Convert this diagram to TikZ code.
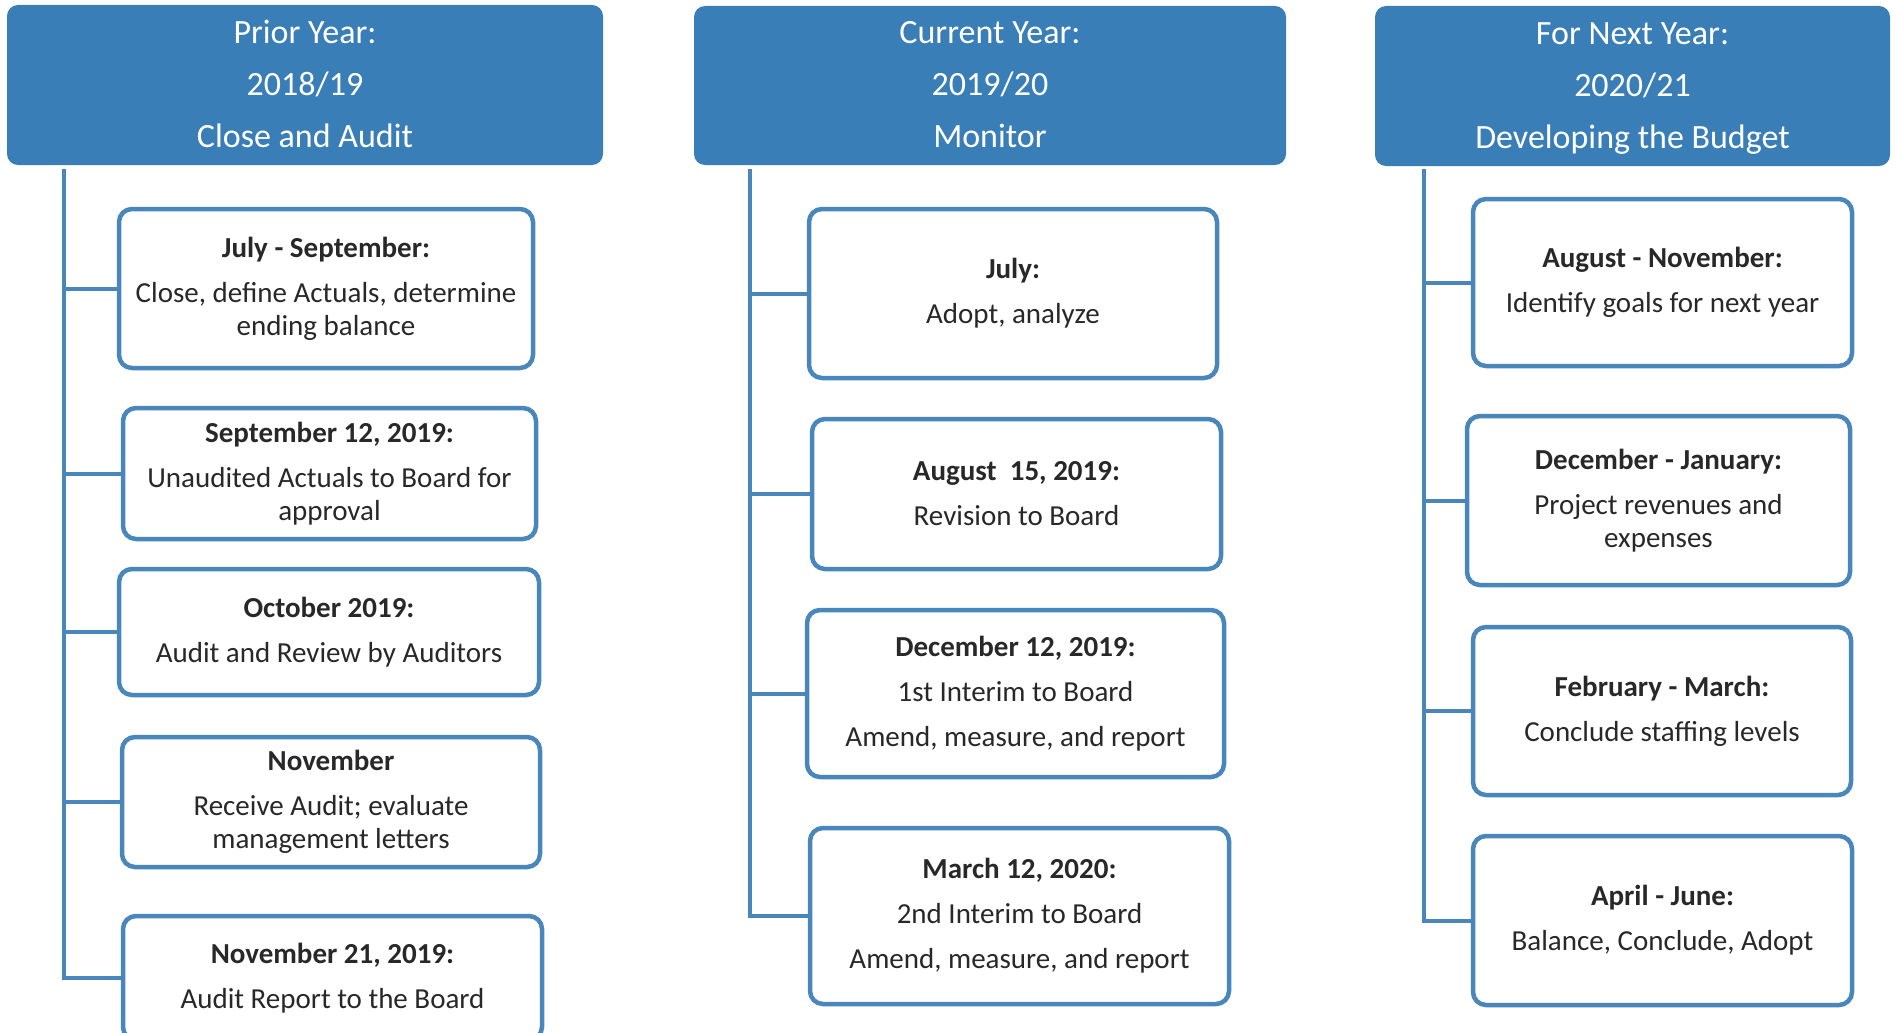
\documentclass[tikz,border=0pt]{standalone}
\usepackage{fontspec}
\setmainfont{Carlito}
\usepackage{tikz}
\usetikzlibrary{calc}

\definecolor{hdrblue}{RGB}{58,126,184}
\definecolor{lineblue}{RGB}{72,134,188}
\definecolor{txtgray}{RGB}{40,40,40}

\tikzset{
  yearhead/.style={draw=none, fill=hdrblue, rounded corners=11pt, text=white,
    align=center, font=\fontsize{34}{52}\selectfont, inner sep=0pt},
  evtbox/.style={draw=lineblue, line width=4.5pt, fill=white, rounded corners=13pt,
    text=txtgray, align=center, font=\fontsize{29}{33}\selectfont, inner sep=0pt},
  trunk/.style={draw=lineblue, line width=4pt},
}

\begin{document}
\begin{tikzpicture}[x=1pt, y=-1pt]
		%%%%% START %%%%%
		\clip (0,0) rectangle (1898,1033);
		\fill[white] (0,0) rectangle (1898,1033);

		% headers
		\node[yearhead, minimum width=596pt, minimum height=160pt] (prior) at (305,85) {\strut Prior Year:\\2018/19\\\strut Close and Audit};
		\node[yearhead, minimum width=592pt, minimum height=159pt] (current) at (990,85.5) {\strut Current Year:\\2019/20\\\strut Monitor};
		\node[yearhead, minimum width=515pt, minimum height=160pt] (next) at (1632.5,86) {\strut For Next Year:\\2020/21\\\strut Developing the Budget};

		% prior year
		\node[evtbox, minimum width=414pt, minimum height=159pt] (p1) at (326,288.5) {\textbf{July - September:}\\[12pt]Close, define Actuals, determine\\ending balance};
		\node[evtbox, minimum width=413pt, minimum height=131pt] (p2) at (329.5,473.5) {\textbf{September 12, 2019:}\\[12pt]Unaudited Actuals to Board for\\approval};
		\node[evtbox, minimum width=420pt, minimum height=126pt] (p3) at (329,632) {\textbf{October 2019:}\\[12pt]Audit and Review by Auditors};
		\node[evtbox, minimum width=418pt, minimum height=130pt] (p4) at (331,802) {\textbf{November}\\[12pt]Receive Audit; evaluate\\management letters};
		\node[evtbox, minimum width=419pt, minimum height=124pt] (p5) at (332.5,978) {\textbf{November 21, 2019:}\\[12pt]Audit Report to the Board};

		% current year
		\node[evtbox, minimum width=408pt, minimum height=169pt] (c1) at (1013,293.5) {\textbf{July:}\\[12pt]Adopt, analyze};
		\node[evtbox, minimum width=409pt, minimum height=150pt] (c2) at (1016.5,494) {\textbf{August\ \ 15, 2019:}\\[12pt]Revision to Board};
		\node[evtbox, minimum width=417pt, minimum height=167pt] (c3) at (1015.5,693.5) {\textbf{December 12, 2019:}\\[12pt]1st Interim to Board\\[12pt]Amend, measure, and report};
		\node[evtbox, minimum width=419pt, minimum height=176pt] (c4) at (1019.5,916) {\textbf{March 12, 2020:}\\[12pt]2nd Interim to Board\\[12pt]Amend, measure, and report};

		% next year
		\node[evtbox, minimum width=379pt, minimum height=167pt] (n1) at (1662.5,282.5) {\textbf{August - November:}\\[12pt]Identify goals for next year};
		\node[evtbox, minimum width=383pt, minimum height=169pt] (n2) at (1658.5,500.5) {\textbf{December - January:}\\[12pt]Project revenues and\\expenses};
		\node[evtbox, minimum width=378pt, minimum height=168pt] (n3) at (1662,711) {\textbf{February - March:}\\[12pt]Conclude staffing levels};
		\node[evtbox, minimum width=379pt, minimum height=169pt] (n4) at (1662.5,920.5) {\textbf{April - June:}\\[12pt]Balance, Conclude, Adopt};

		% trunks and branches
		\coordinate (ptop) at (64,169);
		\coordinate (ctop) at (750,169);
		\coordinate (ntop) at (1424,169);

		\draw[trunk] (ptop) |- (p5.west);
		\foreach \b in {p1,p2,p3,p4}
		  \draw[trunk] (ptop |- \b.west) -- (\b.west);

		\draw[trunk] (ctop) |- (c4.west);
		\foreach \b in {c1,c2,c3}
		  \draw[trunk] (ctop |- \b.west) -- (\b.west);

		\draw[trunk] (ntop) |- (n4.west);
		\foreach \b in {n1,n2,n3}
		  \draw[trunk] (ntop |- \b.west) -- (\b.west);
		%%%%% END %%%%%
\end{tikzpicture}
\end{document}
